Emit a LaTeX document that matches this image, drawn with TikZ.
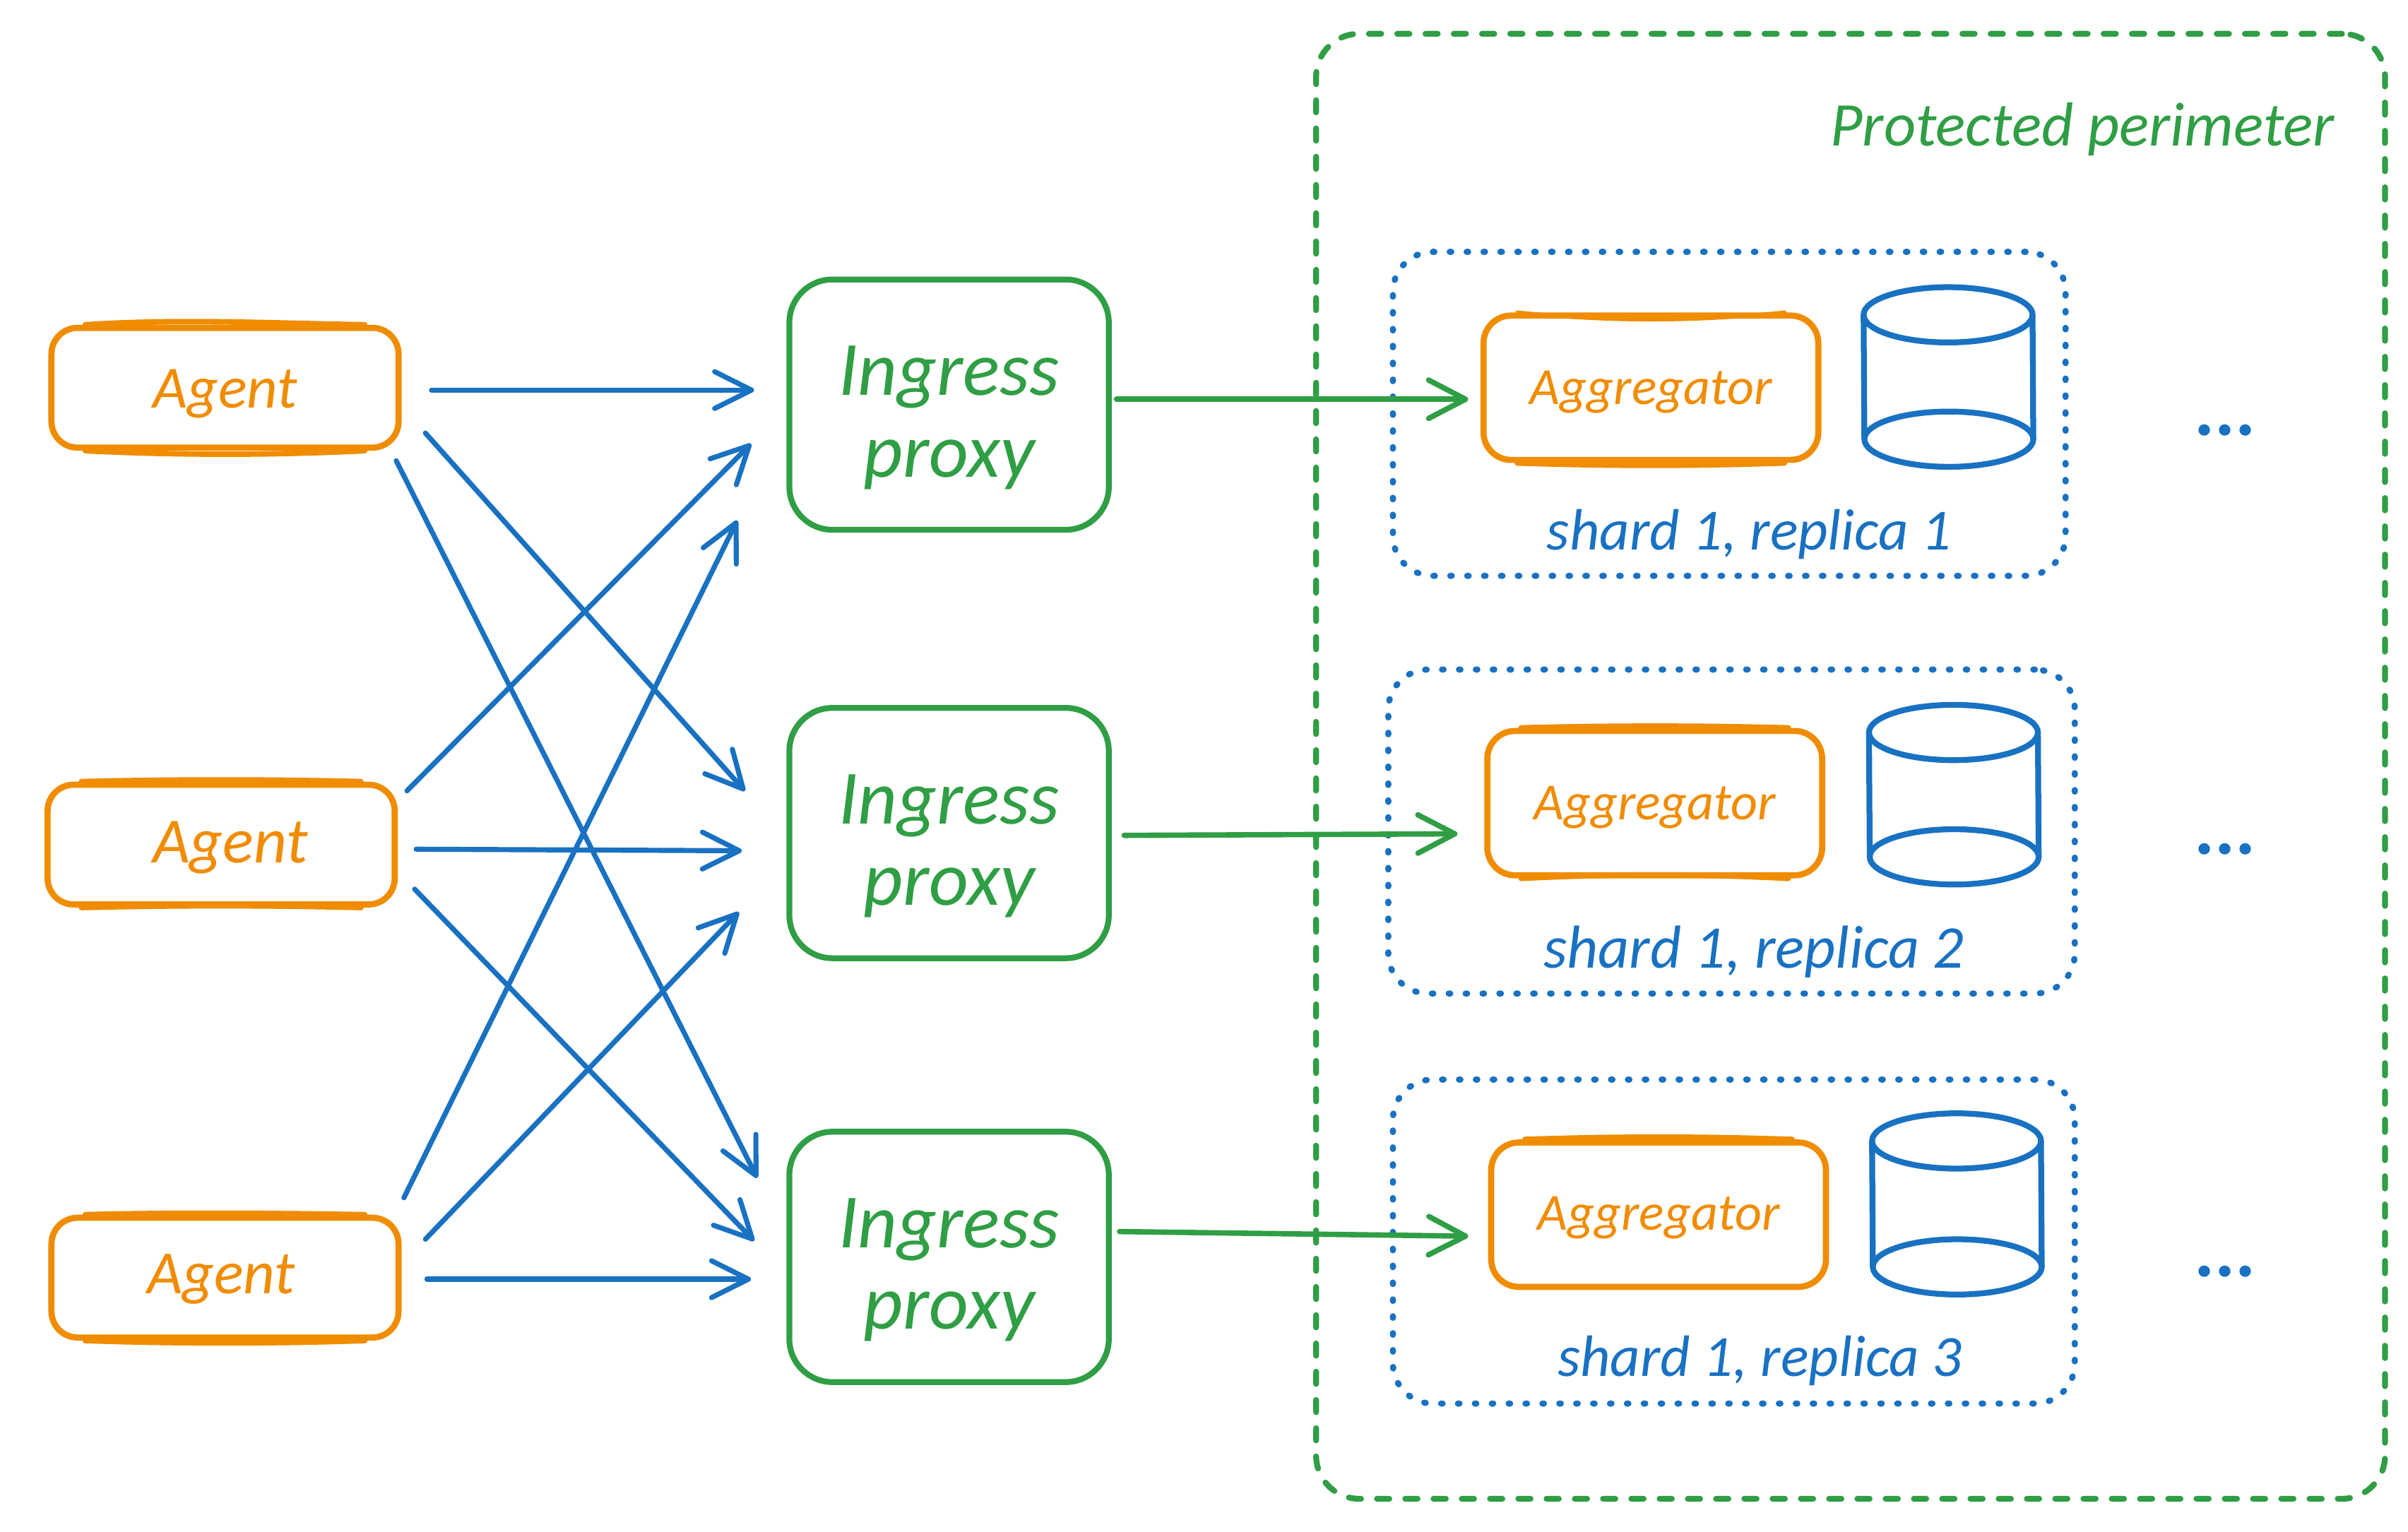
\documentclass[tikz,border=0pt]{standalone}
\usepackage{fontspec}
\setmainfont{Carlito}
\usetikzlibrary{arrows.meta}
\definecolor{cgreen}{HTML}{2F9E44}
\definecolor{corange}{HTML}{F08C00}
\definecolor{cblue}{HTML}{1971C2}
\newcommand{\dn}[2][3pt]{\raisebox{-#1}[\height][\depth]{#2}}
\tikzset{
  agentbox/.style={draw=corange,line width=4pt,rounded corners=17pt,minimum width=226pt,minimum height=78pt,inner sep=0pt,text=corange,font=\itshape\fontsize{39}{42}\selectfont},
  aggbox/.style={draw=corange,line width=4pt,rounded corners=18pt,minimum width=218pt,minimum height=94pt,inner sep=0pt,text=corange,font=\itshape\fontsize{34}{36}\selectfont},
  proxybox/.style={draw=cgreen,line width=3.8pt,rounded corners=28pt,minimum width=208pt,minimum height=163pt,inner sep=0pt,text=cgreen,align=center,font=\itshape\fontsize{50}{53}\selectfont},
  perimeterbox/.style={draw=cgreen,line width=3.8pt,line cap=round,dash pattern=on 8pt off 10.4pt,rounded corners=28pt,inner sep=0pt},
  shardbox/.style={draw=cblue,line width=4pt,line cap=round,dash pattern=on 1pt off 10pt,rounded corners=26pt,inner sep=0pt},
  shardlabel/.style={text=cblue,inner sep=0pt,font=\itshape\fontsize{38}{40}\selectfont},
  perimlabel/.style={text=cgreen,inner sep=0pt,font=\itshape\fontsize{40.5}{44}\selectfont},
  morelabel/.style={text=cblue,inner sep=0pt,font=\bfseries\fontsize{50}{50}\selectfont},
  bluearrow/.style={draw=cblue,line width=3.3pt,line cap=round,-{Straight Barb[length=24pt,width=24pt,round]}},
  greenarrow/.style={draw=cgreen,line width=3.5pt,line cap=round,-{Straight Barb[length=24pt,width=25pt,round]}},
  drum/.style={draw=cblue,line width=3.8pt},
  rough/.style={draw=corange,line width=3.6pt,line cap=round},
}
\begin{document}
\begin{tikzpicture}[x=1pt,y=-1pt]
\useasboundingbox (0,0) rectangle (1568,997.6);
\fill[white] (0,0) rectangle (1568,997.6);

% perimeter and shard frames
\node[perimeterbox,minimum width=696pt,minimum height=954pt] (perim) at (1205,499) {};
\node[perimlabel] (perimtext) at (1356,84) {Protected perimeter};
\node[shardbox,minimum width=438pt,minimum height=211pt] (s1) at (1126,269.5) {};
\node[shardbox,minimum width=447pt,minimum height=211pt] (s2) at (1127.5,541.5) {};
\node[shardbox,minimum width=444pt,minimum height=211pt] (s3) at (1129,808.5) {};
\node[shardlabel] (s1t) at (1139,348) {shard 1, replica 1};
\node[shardlabel,font=\itshape\fontsize{39.5}{40}\selectfont] (s2t) at (1142,620) {shard 1, replica 2};
\node[shardlabel] (s3t) at (1146,886) {shard 1, replica 3};

% agents
\node[agentbox] (a1) at (146.5,252.5) {\dn[4pt]{Agent}};
\node[agentbox,font=\itshape\fontsize{42}{44}\selectfont] (a2) at (144,550) {\hspace*{12pt}\dn[2pt]{Agent}};
\node[agentbox,font=\itshape\fontsize{40}{44}\selectfont] (a3) at (146.5,832) {\dn[1pt]{Agent}\hspace*{5pt}};
% proxies
\node[proxybox] (p1) at (618,263.5) {\dn[8.5pt]{Ingress}\\\dn[8.5pt]{proxy}};
\node[proxybox] (p2) at (618,542.5) {\dn[8.5pt]{Ingress}\\\dn[8.5pt]{proxy}};
\node[proxybox] (p3) at (618,818.5) {\dn[8.5pt]{Ingress}\\\dn[8.5pt]{proxy}};
% aggregators
\node[aggbox] (g1) at (1075,252.5) {\dn{Aggregator}};
\node[aggbox] (g2) at (1077.5,523) {\dn{Aggregator}};
\node[aggbox] (g3) at (1080,791) {\dn[2pt]{Aggregator}};

% second pencil strokes on the orange boxes
\draw[rough] ([xshift=24pt]a1.north west) .. controls +(60,-4) and +(-60,-1) .. ([xshift=-24pt]a1.north east);
\draw[rough] ([xshift=24pt]a1.south west) .. controls +(60,3) and +(-60,3) .. ([xshift=-24pt]a1.south east);
\draw[rough] ([xshift=24pt]a2.north west) .. controls +(60,-1.5) and +(-60,-1.5) .. ([xshift=-24pt]a2.north east);
\draw[rough] ([xshift=24pt]a2.south west) .. controls +(60,-1.5) and +(-60,-1.5) .. ([xshift=-24pt]a2.south east);
\draw[rough] ([xshift=24pt]a3.north west) .. controls +(60,-1.5) and +(-60,-1) .. ([xshift=-24pt]a3.north east);
\draw[rough] ([xshift=24pt]a3.south west) .. controls +(60,2) and +(-60,2) .. ([xshift=-24pt]a3.south east);
\draw[rough,line width=2.6pt] ([xshift=24pt]g1.north west) .. controls +(60,6) and +(-60,6) .. ([xshift=-24pt]g1.north east);
\draw[rough] ([xshift=24pt]g1.south west) .. controls +(60,2) and +(-60,2) .. ([xshift=-24pt]g1.south east);
\draw[rough] ([xshift=24pt]g2.north west) .. controls +(60,-1.5) and +(-60,-1.5) .. ([xshift=-24pt]g2.north east);
\draw[rough] ([xshift=24pt]g2.south west) .. controls +(60,-3) and +(-60,-3) .. ([xshift=-24pt]g2.south east);
\draw[rough] ([xshift=24pt]g3.north west) .. controls +(60,-2) and +(-60,-2) .. ([xshift=-24pt]g3.north east);

% cylinders
\foreach \cx/\top/\bot in {1268.5/205/286, 1272/477/558, 1274/743/825}{
  \draw[drum] (\cx,\top) ellipse [x radius=55,y radius=18];
  \draw[drum] (\cx+0.5,\bot) ellipse [x radius=55,y radius=18];
  \draw[drum] (\cx-55,\top) -- (\cx-54.5,\bot);
  \draw[drum] (\cx+55,\top) -- (\cx+55.5,\bot);
}
\node[morelabel] (m1) at (1449,280) {...};
\node[morelabel] (m2) at (1449,553) {...};
\node[morelabel] (m3) at (1449,828) {...};

% connector ends
\coordinate (a1o1) at (281,254); \coordinate (a1o2) at (277,282); \coordinate (a1o3) at (258,300);
\coordinate (a2o1) at (265,515); \coordinate (a2o2) at (271,553); \coordinate (a2o3) at (270,579);
\coordinate (a3o1) at (263,780); \coordinate (a3o2) at (277,807); \coordinate (a3o3) at (278,833);
\coordinate (p1i1) at (491,254); \coordinate (p1i2) at (489,289); \coordinate (p1i3) at (480,339);
\coordinate (p2i1) at (485,515); \coordinate (p2i2) at (483,554); \coordinate (p2i3) at (481,594);
\coordinate (p3i1) at (493,767); \coordinate (p3i2) at (491,808); \coordinate (p3i3) at (489,833);
\coordinate (p1o) at (727,260); \coordinate (g1i) at (956,260);
\coordinate (p2o) at (732,544); \coordinate (g2i) at (949,543);
\coordinate (p3o) at (729,802); \coordinate (g3i) at (956,805);

\draw[bluearrow] (a1o1) -- (p1i1);
\draw[bluearrow] (a1o2) -- (p2i1);
\draw[bluearrow] (a1o3) -- (p3i1);
\draw[bluearrow] (a2o1) -- (p1i2);
\draw[bluearrow] (a2o2) -- (p2i2);
\draw[bluearrow] (a2o3) -- (p3i2);
\draw[bluearrow] (a3o1) -- (p1i3);
\draw[bluearrow] (a3o2) -- (p2i3);
\draw[bluearrow] (a3o3) -- (p3i3);
\draw[greenarrow] (p1o) -- (g1i);
\draw[greenarrow] (p2o) -- (g2i);
\draw[greenarrow] (p3o) -- (g3i);
\end{tikzpicture}
\end{document}
